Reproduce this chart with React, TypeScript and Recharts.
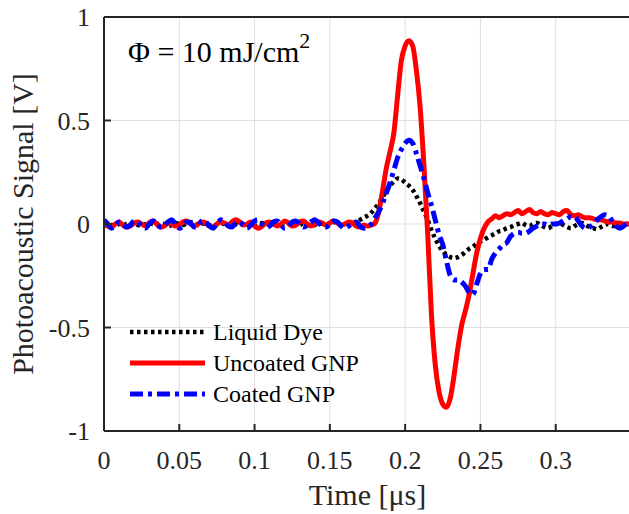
import { LineChart, Line, XAxis, YAxis, CartesianGrid, Legend } from "recharts";

const FONT = '"Liberation Serif", "Times New Roman", serif';
const INK = "#262626";

// time samples [µs]
const time = [
  0, 0.0025, 0.005, 0.0075, 0.01, 0.0125, 0.015, 0.0175, 0.02, 0.0225,
  0.025, 0.0275, 0.03, 0.0325, 0.035, 0.0375, 0.04, 0.0425, 0.045, 0.0475,
  0.05, 0.0525, 0.055, 0.0575, 0.06, 0.0625, 0.065, 0.0675, 0.07, 0.0725,
  0.075, 0.0775, 0.08, 0.0825, 0.085, 0.0875, 0.09, 0.0925, 0.095, 0.0975,
  0.1, 0.1025, 0.105, 0.1075, 0.11, 0.1125, 0.115, 0.1175, 0.12, 0.1225,
  0.125, 0.1275, 0.13, 0.1325, 0.135, 0.1375, 0.14, 0.1425, 0.145, 0.1475,
  0.15, 0.1525, 0.155, 0.1575, 0.16, 0.1625, 0.165, 0.1675, 0.17, 0.1725,
  0.175, 0.1775, 0.18, 0.1825, 0.185, 0.1875, 0.19, 0.1925, 0.195, 0.1975,
  0.2, 0.2025, 0.205, 0.2075, 0.21, 0.2125, 0.215, 0.2175, 0.22, 0.2225,
  0.225, 0.2275, 0.23, 0.2325, 0.235, 0.2375, 0.24, 0.2425, 0.245, 0.2475,
  0.25, 0.2525, 0.255, 0.2575, 0.26, 0.2625, 0.265, 0.2675, 0.27, 0.2725,
  0.275, 0.2775, 0.28, 0.2825, 0.285, 0.2875, 0.29, 0.2925, 0.295, 0.2975,
  0.3, 0.3025, 0.305, 0.3075, 0.31, 0.3125, 0.315, 0.3175, 0.32, 0.3225,
  0.325, 0.3275, 0.33, 0.3325, 0.335, 0.3375, 0.34, 0.3425, 0.345, 0.3475,
  0.35,
];

const liquidDye = [
  0.005, 0, -0.005, -0.01, 0, 0.005, -0.005, 0, 0.005, -0.005,
  -0.01, 0, 0.005, 0, -0.005, 0.005, 0, -0.01, -0.005, 0.005,
  0, -0.005, 0.005, 0.01, 0, -0.005, 0, 0.005, -0.005, -0.01,
  0, 0.005, 0, -0.005, 0.005, 0, -0.005, 0, 0.005, 0,
  -0.01, -0.005, 0.005, 0, -0.005, 0, 0.005, 0, -0.01, 0,
  0.005, 0, -0.005, 0.005, 0, -0.01, -0.005, 0.005, 0, -0.005,
  0.005, 0.01, 0, -0.005, 0, 0.005, 0.005, 0.01, 0.02, 0.03,
  0.04, 0.055, 0.075, 0.1, 0.13, 0.16, 0.185, 0.205, 0.22, 0.215,
  0.2, 0.185, 0.165, 0.135, 0.1, 0.06, 0.02, -0.03, -0.07, -0.105,
  -0.13, -0.15, -0.16, -0.165, -0.16, -0.15, -0.135, -0.12, -0.11, -0.095,
  -0.085, -0.075, -0.065, -0.055, -0.045, -0.035, -0.03, -0.02, -0.015, -0.005,
  0, 0.005, -0.005, -0.01, 0, 0.005, -0.005, -0.015, -0.02, -0.01,
  0, 0.005, -0.005, -0.015, -0.02, -0.01, 0, 0.005, -0.005, -0.015,
  -0.02, -0.025, -0.015, -0.005, 0, -0.01, -0.01, 0, 0.005, 0,
  0,
];

const uncoatedGnp = [
  0, -0.01, -0.015, 0, 0.01, -0.005, -0.015, -0.01, 0.005, 0.01,
  0, -0.01, 0.005, 0.015, 0, -0.015, -0.01, 0.005, 0, -0.01,
  -0.005, 0.01, 0.015, 0, -0.01, 0, 0.01, 0.005, -0.01, -0.015,
  0, 0.01, 0.005, -0.005, 0.01, 0.02, 0.01, -0.005, 0, 0.01,
  -0.01, -0.02, -0.01, 0.005, 0.01, 0, -0.01, 0, 0.015, 0.005,
  -0.01, -0.005, 0.01, 0.015, 0, -0.01, 0, 0.01, 0.005, -0.005,
  0.005, 0.015, 0.005, -0.005, 0, 0.01, 0.005, -0.01, -0.015, -0.005,
  -0.01, -0.005, 0.005, 0.06, 0.16, 0.27, 0.35, 0.44, 0.62, 0.79,
  0.86, 0.885, 0.86, 0.74, 0.56, 0.28, -0.05, -0.44, -0.68, -0.81,
  -0.87, -0.885, -0.84, -0.73, -0.6, -0.49, -0.42, -0.34, -0.24, -0.14,
  -0.07, -0.02, 0.01, 0.025, 0.04, 0.03, 0.04, 0.05, 0.045, 0.055,
  0.065, 0.05, 0.06, 0.07, 0.055, 0.05, 0.06, 0.05, 0.045, 0.055,
  0.05, 0.045, 0.06, 0.065, 0.045, 0.04, 0.045, 0.035, 0.03, 0.03,
  0.025, 0.02, 0.02, 0.015, 0.01, 0.01, 0.005, 0.005, 0, 0,
  0,
];

const coatedGnp = [
  0.02, 0, -0.02, -0.01, 0.01, 0, -0.015, -0.005, 0.015, 0.01,
  -0.01, -0.02, 0, 0.015, 0.005, -0.015, -0.01, 0.01, 0.02, 0,
  -0.02, -0.01, 0.01, 0.005, -0.015, -0.01, 0.015, 0.01, -0.01, -0.02,
  0, 0.02, 0.01, -0.01, -0.015, 0.005, 0.01, -0.005, -0.02, -0.005,
  0.015, 0.02, 0, -0.015, -0.01, 0.01, 0.015, -0.005, -0.02, -0.01,
  0.01, 0.015, 0, -0.015, -0.005, 0.01, 0.02, 0.005, -0.01, -0.015,
  0, 0.015, 0.01, -0.01, -0.02, -0.01, 0.005, 0.01, -0.01, -0.02,
  -0.015, 0, 0.03, 0.06, 0.1, 0.15, 0.2, 0.26, 0.32, 0.36,
  0.39, 0.405, 0.39, 0.34, 0.28, 0.22, 0.15, 0.09, 0.02, -0.05,
  -0.1, -0.18, -0.25, -0.27, -0.27, -0.28, -0.3, -0.33, -0.34, -0.29,
  -0.24, -0.22, -0.22, -0.17, -0.14, -0.12, -0.1, -0.09, -0.06, -0.045,
  -0.04, -0.045, -0.045, -0.035, -0.02, -0.01, 0, 0, -0.005, 0,
  0, 0.005, 0.015, 0.025, 0.035, 0.035, 0.015, -0.01, -0.02, -0.015,
  0, 0.02, 0.035, 0.045, 0.04, 0.015, -0.01, -0.02, -0.01, 0.005,
  0.01,
];

const xTicks = [0, 0.05, 0.1, 0.15, 0.2, 0.25, 0.3];
const yTicks = [-1, -0.5, 0, 0.5, 1];

const series = [
  { key: "dye", name: "Liquid Dye", color: "#000000", dash: "3.5 3.5", width: 4.5 },
  { key: "uncoated", name: "Uncoated GNP", color: "#ff0000", dash: undefined, width: 5 },
  { key: "coated", name: "Coated GNP", color: "#0000ff", dash: "13 5 4 5", width: 5 },
];

const rows = time.map((t, i) => ({
  t,
  dye: liquidDye[i],
  uncoated: uncoatedGnp[i],
  coated: coatedGnp[i],
}));

const axisStyle = { stroke: INK, strokeWidth: 2 };
const tickStyle = { fontSize: 26, fill: INK, fontFamily: FONT };

function LegendBox() {
  return (
    <div style={{ fontFamily: FONT, fontSize: 24, color: "#000" }}>
      {series.map((s) => (
        <div key={s.key} style={{ display: "flex", alignItems: "center", height: 31 }}>
          <svg width={78} height={12}>
            <line x1={2} x2={77} y1={6} y2={6} stroke={s.color} strokeWidth={s.width} strokeDasharray={s.dash} />
          </svg>
          <span style={{ marginLeft: 7, whiteSpace: "nowrap" }}>{s.name}</span>
        </div>
      ))}
    </div>
  );
}

export default function App() {
  return (
    <div style={{ position: "absolute", left: 0, top: 0, width: 629, height: 514, overflow: "hidden", background: "#fff", fontFamily: FONT }}>
      <LineChart width={632} height={514} data={rows} margin={{ top: 16, right: 0, bottom: 0, left: 0 }}>
        <CartesianGrid stroke="#dfdfdf" strokeWidth={1} />
        <XAxis
          dataKey="t"
          type="number"
          domain={[0, 0.35]}
          allowDataOverflow
          ticks={xTicks}
          interval={0}
          height={83}
          tickSize={-7}
          tickMargin={26.5}
          tick={tickStyle}
          axisLine={axisStyle}
          tickLine={axisStyle}
          label={{
            content: (p: any) => (
              <text x={p.viewBox.x + p.viewBox.width / 2} y={505} textAnchor="middle" fontSize={30} fontFamily={FONT} fill={INK}>
                Time [μs]
              </text>
            ),
          }}
        />
        <XAxis
          xAxisId="top"
          orientation="top"
          type="number"
          domain={[0, 0.35]}
          allowDataOverflow
          ticks={xTicks}
          interval={0}
          height={1}
          tickSize={-7}
          tick={false}
          axisLine={axisStyle}
          tickLine={axisStyle}
        />
        <YAxis
          type="number"
          domain={[-1, 1]}
          allowDataOverflow
          ticks={yTicks}
          interval={0}
          width={104}
          tickSize={-7}
          tickMargin={21}
          tick={tickStyle}
          axisLine={axisStyle}
          tickLine={axisStyle}
          label={{
            content: (p: any) => {
              const cy = p.viewBox.y + p.viewBox.height / 2;
              return (
                <text x={33} y={cy} transform={`rotate(-90 33 ${cy})`} textAnchor="middle" fontSize={30} fontFamily={FONT} fill={INK}>
                  Photoacoustic Signal [V]
                </text>
              );
            },
          }}
        />
        <YAxis
          yAxisId="right"
          orientation="right"
          type="number"
          domain={[-1, 1]}
          allowDataOverflow
          ticks={yTicks}
          interval={0}
          width={1}
          tickSize={-7}
          tick={false}
          axisLine={axisStyle}
          tickLine={axisStyle}
        />
        {series.map((s) => (
          <Line
            key={s.key}
            dataKey={s.key}
            name={s.name}
            type="monotone"
            stroke={s.color}
            strokeWidth={s.width}
            strokeDasharray={s.dash}
            strokeLinejoin="round"
            dot={false}
            activeDot={false}
            isAnimationActive={false}
          />
        ))}
        <Legend
          layout="vertical"
          align="center"
          verticalAlign="middle"
          wrapperStyle={{ position: "absolute", left: 128, top: 316.5, width: 260, height: 95 }}
          content={() => <LegendBox />}
        />
      </LineChart>
      <svg width={629} height={514} style={{ position: "absolute", left: 0, top: 0, pointerEvents: "none" }}>
        <text x={128} y={62} fontSize={30} fontFamily={FONT} fill="#000">
          Φ = 10 mJ/cm
          <tspan dy={-14} fontSize={22}>2</tspan>
        </text>
      </svg>
    </div>
  );
}
